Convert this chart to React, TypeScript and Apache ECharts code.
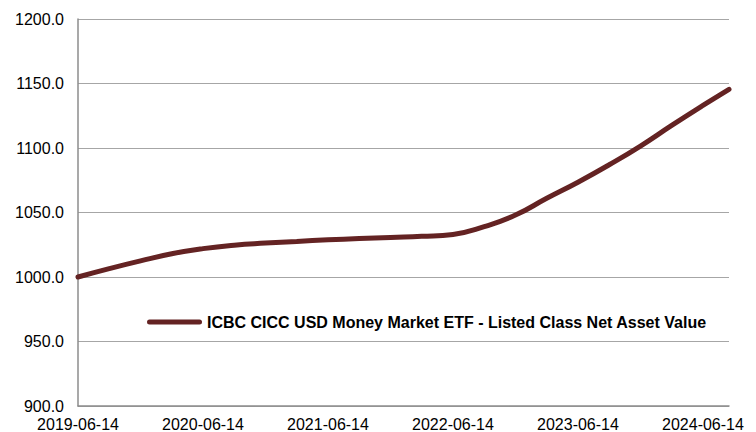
import React, { useEffect, useRef } from "react";
import * as echarts from "echarts";

const seriesName = "ICBC CICC USD Money Market ETF - Listed Class Net Asset Value";
// months elapsed since 2019-06-14
const monthOffsets = [0, 3, 6, 9, 12, 15, 18, 21, 24, 27, 30, 33, 36, 39, 42, 45, 48, 51, 54, 57, 60, 62.5];
const navValues = [
  1000, 1006.5, 1012.5, 1018, 1022, 1024.7, 1026.3, 1027.6, 1028.8, 1029.8, 1030.7,
  1031.5, 1033, 1039, 1048, 1061, 1073.5, 1087, 1101.5, 1117.5, 1133, 1145.5,
];
const xTickLabels = ["2019-06-14", "2020-06-14", "2021-06-14", "2022-06-14", "2023-06-14", "2024-06-14"];

export default function App() {
  const ref = useRef<HTMLDivElement>(null);
  useEffect(() => {
    if (!ref.current) return;
    const chart = echarts.init(ref.current, undefined, { renderer: "svg" });
    const font = "'Liberation Sans', Arial, sans-serif";
    chart.setOption({
      animation: false,
      backgroundColor: "#ffffff",
      textStyle: { fontFamily: font },
      grid: { left: 78, right: 27, top: 19, bottom: 26, outerBoundsMode: "none" },
      legend: {
        show: true,
        left: 147,
        top: 314,
        padding: 0,
        itemWidth: 55,
        itemHeight: 5,
        itemGap: 5,
        icon: "path://M2.5,0 H52.5 A2.5,2.5 0 0 1 52.5,5 H2.5 A2.5,2.5 0 0 1 2.5,0 Z",
        itemStyle: { color: "#642323" },
        textStyle: { fontSize: 16, fontWeight: "bold", color: "#000", fontFamily: font },
        data: [seriesName],
      },
      xAxis: {
        type: "value",
        min: 0,
        max: 62.5,
        interval: 12,
        axisLine: { show: true, lineStyle: { color: "#8c8c8c", width: 1.5 } },
        axisTick: { show: false },
        splitLine: { show: false },
        axisLabel: {
          margin: 10,
          fontSize: 16,
          color: "#000",
          fontFamily: font,
          showMaxLabel: false,
          formatter: (v: number) => xTickLabels[Math.round(v / 12)] ?? "",
        },
      },
      yAxis: {
        type: "value",
        min: 900,
        max: 1200,
        interval: 50,
        axisLine: { show: true, lineStyle: { color: "#8c8c8c", width: 1.5 } },
        axisTick: { show: false },
        splitLine: { show: true, lineStyle: { color: "#a6a6a6", width: 1 } },
        axisLabel: {
          margin: 14,
          fontSize: 16,
          color: "#000",
          fontFamily: font,
          formatter: (v: number) => v.toFixed(1),
        },
      },
      series: [
        {
          name: seriesName,
          type: "line",
          smooth: true,
          symbol: "none",
          showSymbol: false,
          lineStyle: { color: "#642323", width: 5, cap: "round" },
          itemStyle: { color: "#642323" },
          data: monthOffsets.map((m, i) => [m, navValues[i]]),
        },
      ],
    });
    return () => chart.dispose();
  }, []);
  return (
    <div
      ref={ref}
      style={{ position: "fixed", left: 0, top: 0, width: 756, height: 432 }}
    />
  );
}
